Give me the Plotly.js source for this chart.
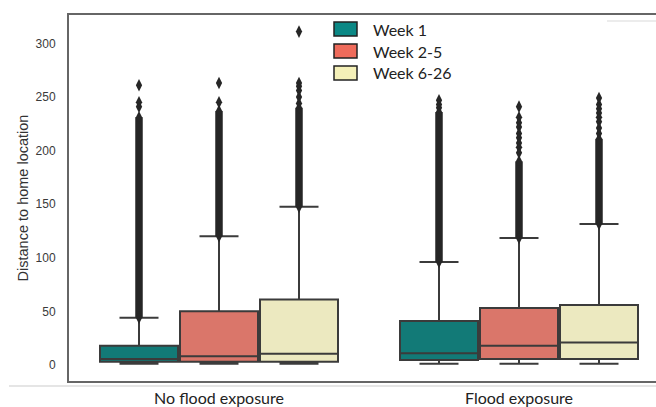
<!DOCTYPE html>
<html>
<head>
<meta charset="utf-8">
<script src="https://cdn.plot.ly/plotly-3.0.1.min.js"></script>
<style>
  html, body { margin: 0; padding: 0; overflow: hidden; background: #fff; }
  #chart { width: 680px; height: 407px; }
</style>
</head>
<body>
<div id="chart"></div>
<script>
// Exposure groups on the x axis and the three periods drawn side by side
const groups = ['No flood exposure', 'Flood exposure'];
const weeks = ['Week 1', 'Week 2-5', 'Week 6-26'];

// Box statistics: one row per period, one column per exposure group
const lowerFence = [[1, 1], [1, 1], [1, 1]];
const q1Vals = [[3, 4.5], [3, 5.5], [3, 5.5]];
const medianVals = [[5.5, 11], [8, 18], [10.5, 21]];
const q3Vals = [[18, 41], [50, 53], [61, 56]];
const upperFence = [[44, 96], [120, 118.5], [147.5, 131.5]];

// Outliers: a near-continuous run above the whisker, then separate points
const denseTop = [[231, 236], [237, 190], [240, 211]];
const sparseOutliers = [
  [[241, 245, 261], [240, 243, 247]],
  [[245, 263], [198, 203, 207, 212, 216, 222, 226, 231, 241]],
  [[244, 250, 256, 260, 263, 311], [216, 221, 227, 231, 235, 239, 243, 249]]
];

const boxFill = ['#127a77', '#da766a', '#ece9c0'];
const swatchFill = ['#0b8885', '#ef6b5b', '#f4f0b8'];
const edge = '#3b3b3b';
const flierColor = '#262626';

const slot = 0.8 / weeks.length;
const boxWidth = slot * 0.975;
const offsetOf = w => (w - (weeks.length - 1) / 2) * slot;

const traces = [];
weeks.forEach((wk, w) => {
  const xs = groups.map((g, gi) => gi + offsetOf(w));
  traces.push({
    type: 'box',
    name: wk,
    x: xs,
    q1: q1Vals[w],
    median: medianVals[w],
    q3: q3Vals[w],
    lowerfence: lowerFence[w],
    upperfence: upperFence[w],
    width: boxWidth,
    whiskerwidth: 0.5,
    boxpoints: false,
    fillcolor: boxFill[w],
    line: { color: edge, width: 2 },
    showlegend: false,
    hoverinfo: 'skip'
  });
  groups.forEach((g, gi) => {
    // solid run of overlapping outlier markers
    traces.push({
      type: 'scatter',
      mode: 'lines+markers',
      x: [xs[gi], xs[gi]],
      y: [upperFence[w][gi], denseTop[w][gi]],
      line: { color: flierColor, width: 7.5 },
      marker: { symbol: 'diamond-tall', size: 9, color: flierColor },
      showlegend: false,
      hoverinfo: 'skip'
    });
    traces.push({
      type: 'scatter',
      mode: 'markers',
      x: sparseOutliers[w][gi].map(() => xs[gi]),
      y: sparseOutliers[w][gi],
      marker: { symbol: 'diamond-tall', size: 9, color: flierColor },
      showlegend: false,
      hoverinfo: 'skip'
    });
  });
});

// Legend drawn as swatches plus labels
const shapes = [];
const annotations = [];
const H = 407, W = 680;
const legLeft = 334, legTop = 22, rowStep = 22, swW = 23, swH = 14;
weeks.forEach((wk, w) => {
  const top = legTop + w * rowStep;
  shapes.push({
    type: 'rect', xref: 'paper', yref: 'paper', layer: 'above',
    x0: (legLeft - 69) / 600, x1: (legLeft + swW - 69) / 600,
    y0: 1 - (top + swH - 15) / 366, y1: 1 - (top - 15) / 366,
    fillcolor: swatchFill[w], line: { color: '#222', width: 1.5 }
  });
  annotations.push({
    xref: 'paper', yref: 'paper',
    x: (371 - 69) / 600, y: 1 - (top + swH / 2 - 15) / 366,
    xanchor: 'left', yanchor: 'middle', showarrow: false,
    text: wk, font: { family: 'Lato, sans-serif', size: 16, color: '#222' }
  });
});

// faint separator rules around the frame
shapes.push({
  type: 'line', xref: 'paper', yref: 'paper', layer: 'above',
  x0: (9 - 69) / 600, x1: 1, y0: -5 / 366, y1: -5 / 366,
  line: { color: '#dddddd', width: 1.5 }
});
shapes.push({
  type: 'line', xref: 'paper', yref: 'paper', layer: 'above',
  x0: (607 - 69) / 600, x1: 1, y0: 1 - 6 / 366, y1: 1 - 6 / 366,
  line: { color: '#e6e6e6', width: 1.5 }
});

const layout = {
  width: W, height: H,
  margin: { l: 69, r: 11, t: 15, b: 26 },
  paper_bgcolor: '#fff', plot_bgcolor: '#fff',
  showlegend: false,
  xaxis: {
    range: [-0.5, 1.5],
    tickvals: groups.map((g, i) => i),
    ticktext: groups,
    showgrid: false, zeroline: false,
    ticks: 'outside', ticklen: 2, tickcolor: 'rgba(0,0,0,0)',
    tickfont: { family: 'Lato, sans-serif', size: 16, color: '#222' },
    showline: true, mirror: true, linecolor: '#666', linewidth: 2
  },
  yaxis: {
    range: [-15, 326.5],
    tickvals: [0, 50, 100, 150, 200, 250, 300],
    showgrid: false, zeroline: false,
    ticks: 'outside', ticklen: 9, tickcolor: 'rgba(0,0,0,0)',
    tickfont: { family: 'Liberation Sans, Arial, sans-serif', size: 12, color: '#3a3a3a' },
    showline: true, mirror: true, linecolor: '#666', linewidth: 2,
    title: { text: 'Distance to home location', standoff: 3,
             font: { family: 'Liberation Sans, Arial, sans-serif', size: 14.5, color: '#333' } }
  },
  shapes: shapes,
  annotations: annotations
};

Plotly.newPlot('chart', traces, layout, { staticPlot: true, displayModeBar: false });
</script>
</body>
</html>
